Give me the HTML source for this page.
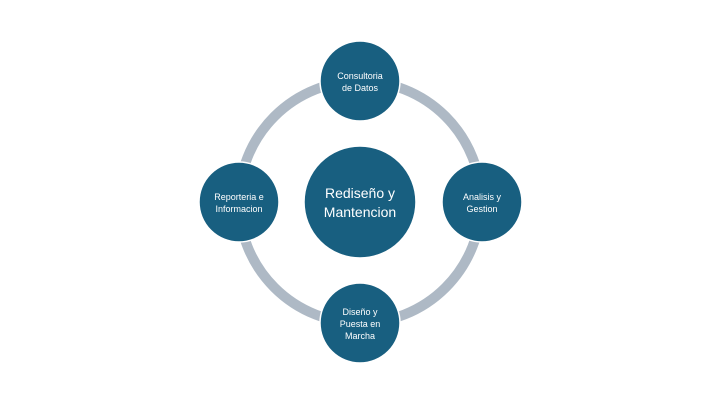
<!DOCTYPE html>
<html><head><style>
body{margin:0;width:720px;height:405px;background:#fff;overflow:hidden}
text{font-family:"Liberation Sans",sans-serif;fill:#fff;text-anchor:middle}
</style></head><body>
<svg width="720" height="405" viewBox="0 0 720 405">
<circle cx="360" cy="202" r="121" fill="none" stroke="#aeb9c5" stroke-width="10"/>
<g fill="#185f80" stroke="#fff" stroke-width="1.5">
<circle cx="360" cy="202" r="56"/>
<circle cx="360" cy="81" r="40"/>
<circle cx="482" cy="202" r="40"/>
<circle cx="360" cy="323" r="40"/>
<circle cx="239" cy="202" r="40"/>
</g>
<text x="360" y="198" font-size="14">Rediseño y</text>
<text x="360" y="217" font-size="14">Mantencion</text>
<text x="360" y="79" font-size="9">Consultoria</text>
<text x="360" y="91" font-size="9">de Datos</text>
<text x="482" y="200" font-size="9">Analisis y</text>
<text x="482" y="212" font-size="9">Gestion</text>
<text x="360" y="315" font-size="9">Diseño y</text>
<text x="360" y="327" font-size="9">Puesta en</text>
<text x="360" y="339" font-size="9">Marcha</text>
<text x="239" y="200" font-size="9">Reporteria e</text>
<text x="239" y="212" font-size="9">Informacion</text>
</svg>
</body></html>
